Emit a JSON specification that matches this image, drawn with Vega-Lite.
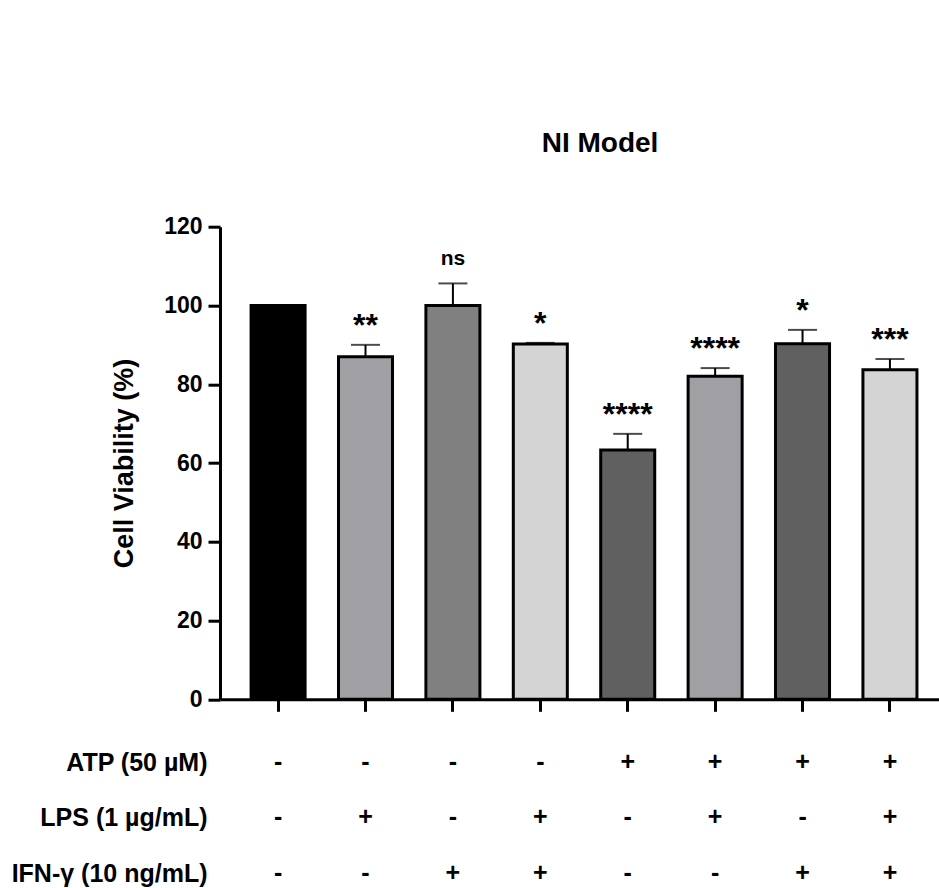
{
  "$schema": "https://vega.github.io/schema/vega-lite/v6.json",
  "width": 719,
  "height": 472.6,
  "autosize": {"type": "none"},
  "padding": {"left": 220, "top": 226.7, "right": 0, "bottom": 188.7},
  "background": "white",
  "config": {
    "view": {"stroke": null},
    "font": "Liberation Sans",
    "axis": {"domainColor": "black", "tickColor": "black", "labelColor": "black", "titleColor": "black", "grid": false},
    "axisY": {"labelFontSize": 23, "labelFontWeight": "bold", "tickSize": 12, "tickWidth": 3, "domainWidth": 3, "labelPadding": 6, "titleFontSize": 27, "titleFontWeight": "bold", "titlePadding": 25}
  },
  "title": {"text": "NI Model", "fontSize": 28, "fontWeight": "bold", "font": "Liberation Sans", "color": "black", "anchor": "start", "frame": "group", "dx": 321.7, "baseline": "alphabetic", "offset": 36},
  "data": {"values": [
    {"cond": "-,-,-", "mean": 100, "upper": 100, "sig": ""},
    {"cond": "-,+,-", "mean": 87.0, "upper": 90.0, "sig": "**"},
    {"cond": "-,-,+", "mean": 100, "upper": 105.6, "sig": "ns"},
    {"cond": "-,+,+", "mean": 90.2, "upper": 90.5, "sig": "*"},
    {"cond": "+,-,-", "mean": 63.3, "upper": 67.4, "sig": "****"},
    {"cond": "+,+,-", "mean": 82.0, "upper": 84.1, "sig": "****"},
    {"cond": "+,-,+", "mean": 90.3, "upper": 93.8, "sig": "*"},
    {"cond": "+,+,+", "mean": 83.7, "upper": 86.4, "sig": "***"}
  ]},
  "encoding": {
    "x": {
      "field": "cond", "type": "nominal", "sort": null,
      "scale": {"paddingInner": 0.382, "paddingOuter": 0.304, "align": 0.585},
      "axis": {
        "title": ["ATP (50 µM)", "LPS (1 µg/mL)", "IFN-γ (10 ng/mL)"],
        "labelExpr": "split(datum.value, ',')",
        "labelAngle": 0, "labelFontSize": 25, "labelFontWeight": "bold",
        "labelLineHeight": 55.5, "labelBaseline": "alphabetic", "labelPadding": 58,
        "tickSize": 12, "tickWidth": 3, "domainWidth": 3,
        "titleX": -13, "titleY": 71, "titleAlign": "right", "titleAngle": 0,
        "titleBaseline": "alphabetic", "titleFontSize": 25, "titleFontWeight": "bold", "titleLineHeight": 55.5
      }
    }
  },
  "layer": [
    {
      "mark": {"type": "rule", "strokeWidth": 2, "color": "black"},
      "encoding": {
        "y": {"field": "mean", "type": "quantitative", "scale": {"domain": [0, 120]}, "title": "Cell Viability (%)", "axis": {"values": [0, 20, 40, 60, 80, 100, 120]}},
        "y2": {"field": "upper"}
      }
    },
    {
      "mark": {"type": "tick", "size": 29, "thickness": 2, "color": "black"},
      "encoding": {
        "y": {"field": "upper", "type": "quantitative", "title": "Cell Viability (%)", "axis": {"values": [0, 20, 40, 60, 80, 100, 120]}}
      }
    },
    {
      "mark": {"type": "bar", "stroke": "black", "strokeWidth": 3},
      "encoding": {
        "y": {"field": "mean", "type": "quantitative", "title": "Cell Viability (%)", "axis": {"values": [0, 20, 40, 60, 80, 100, 120]}},
        "color": {
          "field": "cond", "type": "nominal", "sort": null, "legend": null,
          "scale": {
            "domain": ["-,-,-", "-,+,-", "-,-,+", "-,+,+", "+,-,-", "+,+,-", "+,-,+", "+,+,+"],
            "range": ["#000000", "#A0A0A4", "#808080", "#D4D4D4", "#606060", "#A0A0A4", "#606060", "#D4D4D4"]
          }
        }
      }
    },
    {
      "transform": [{"filter": "datum.sig != 'ns' && datum.sig != ''"}],
      "mark": {"type": "text", "fontSize": 32, "fontWeight": "bold", "baseline": "alphabetic", "dy": -9, "color": "black"},
      "encoding": {
        "y": {"field": "upper", "type": "quantitative", "title": "Cell Viability (%)", "axis": {"values": [0, 20, 40, 60, 80, 100, 120]}},
        "text": {"field": "sig"}
      }
    },
    {
      "transform": [{"filter": "datum.sig == 'ns'"}],
      "mark": {"type": "text", "fontSize": 21, "fontWeight": "bold", "baseline": "alphabetic", "dy": -18, "color": "black"},
      "encoding": {
        "y": {"field": "upper", "type": "quantitative", "title": "Cell Viability (%)", "axis": {"values": [0, 20, 40, 60, 80, 100, 120]}},
        "text": {"field": "sig"}
      }
    }
  ]
}
